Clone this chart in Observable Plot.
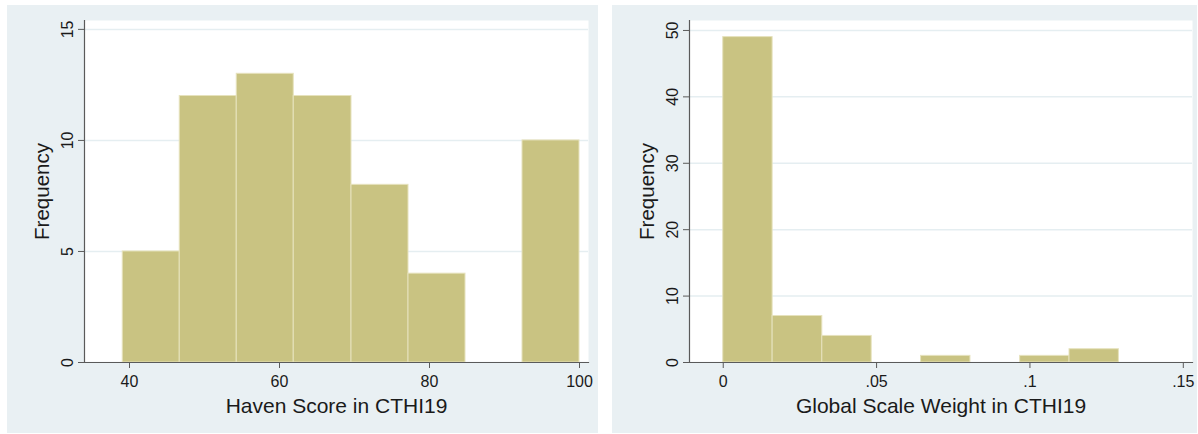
<!DOCTYPE html>
<html>
<head>
<meta charset="utf-8">
<script src="https://cdn.jsdelivr.net/npm/d3@7"></script>
<script src="https://cdn.jsdelivr.net/npm/@observablehq/plot@0.6"></script>
<style>
  html, body { margin: 0; padding: 0; background: #ffffff; }
  #wrap { position: relative; width: 1198px; height: 434px; overflow: hidden; }
  .panel { position: absolute; top: 5px; }
  .panel svg { display: block; }
</style>
</head>
<body>
<div id="wrap">
  <div class="panel" id="left" style="left:7px"></div>
  <div class="panel" id="right" style="left:612px"></div>
</div>
<script>
// ---- Data ----
const havenBinStart = [39.1, 46.7, 54.3, 61.9, 69.6, 77.2, 84.8, 92.4];
const havenBinEnd   = [46.7, 54.3, 61.9, 69.6, 77.2, 84.8, 92.4, 100.0];
const havenCounts   = [5, 12, 13, 12, 8, 4, 0, 10];
const havenXTicks   = [40, 60, 80, 100];
const havenYTicks   = [0, 5, 10, 15];

const weightBinStart = [0.0000, 0.0161, 0.0323, 0.0484, 0.0645, 0.0806, 0.0968, 0.1129];
const weightBinEnd   = [0.0161, 0.0323, 0.0484, 0.0645, 0.0806, 0.0968, 0.1129, 0.1290];
const weightCounts   = [49, 7, 4, 0, 1, 0, 1, 2];
const weightXTicks   = [0, 0.05, 0.1, 0.15];
const weightYTicks   = [0, 10, 20, 30, 40, 50];

const havenTitle  = "Haven Score in CTHI19";
const weightTitle = "Global Scale Weight in CTHI19";
const yTitle      = "Frequency";

// ---- Style ----
const PANEL_BG = "#e9f0f3";
const GRID = "#e5eef1";
const BAR_FILL = "#c9c382";
const BAR_STROKE = "#e6e2bd";
const AXIS = "#5a5a5a";
const TEXT = "#1a1a1a";
const FONT = "'Liberation Sans', Arial, Helvetica, sans-serif";

function rows(starts, ends, counts) {
  return counts.map((c, i) => ({x1: starts[i], x2: ends[i], n: c})).filter(d => d.n > 0);
}

function panel({width, marginRight, xDomain, yDomain, xTicks, yTicks, xFormat, data, xTitle}) {
  return Plot.plot({
    width,
    height: 428,
    marginLeft: 77,
    marginRight,
    marginTop: 15,
    marginBottom: 71,
    style: {background: PANEL_BG, fontFamily: FONT, overflow: "visible"},
    x: {domain: xDomain},
    y: {domain: yDomain},
    marks: [
      Plot.frame({fill: "white", stroke: "none"}),
      Plot.gridY(yTicks, {stroke: GRID, strokeOpacity: 1, strokeWidth: 1.5}),
      Plot.rectY(data, {x1: "x1", x2: "x2", y1: 0, y2: "n", fill: BAR_FILL, stroke: BAR_STROKE, strokeWidth: 1}),
      Plot.frame({anchor: "left", stroke: AXIS, strokeWidth: 1.2}),
      Plot.frame({anchor: "bottom", stroke: AXIS, strokeWidth: 1.2}),
      Plot.axisY(yTicks, {anchor: "left", tickSize: 6, tickRotate: -90, tickPadding: 6, fontSize: 16,
        label: null, stroke: AXIS, fill: TEXT}),
      Plot.axisX(xTicks, {anchor: "bottom", tickSize: 6, tickPadding: 7, fontSize: 16,
        label: null, stroke: AXIS, fill: TEXT, tickFormat: xFormat}),
      Plot.text([yTitle], {frameAnchor: "left", dx: -42, rotate: -90, textAnchor: "middle",
        lineAnchor: "middle", fontSize: 20.5, fill: TEXT}),
      Plot.text([xTitle], {frameAnchor: "bottom", dy: 50, textAnchor: "middle",
        lineAnchor: "bottom", fontSize: 21, fill: TEXT})
    ]
  });
}

const fmtWeight = d => d === 0 ? "0" : String(+d.toFixed(3)).replace(/^0\./, ".");

document.getElementById("left").appendChild(panel({
  width: 591, marginRight: 10,
  xDomain: [34, 101.2], yDomain: [0, 15.4],
  xTicks: havenXTicks, yTicks: havenYTicks, xFormat: d => String(d),
  data: rows(havenBinStart, havenBinEnd, havenCounts), xTitle: havenTitle
}));

document.getElementById("right").appendChild(panel({
  width: 585, marginRight: 5,
  xDomain: [-0.011, 0.153], yDomain: [0, 51.5],
  xTicks: weightXTicks, yTicks: weightYTicks, xFormat: fmtWeight,
  data: rows(weightBinStart, weightBinEnd, weightCounts), xTitle: weightTitle
}));
</script>
</body>
</html>
